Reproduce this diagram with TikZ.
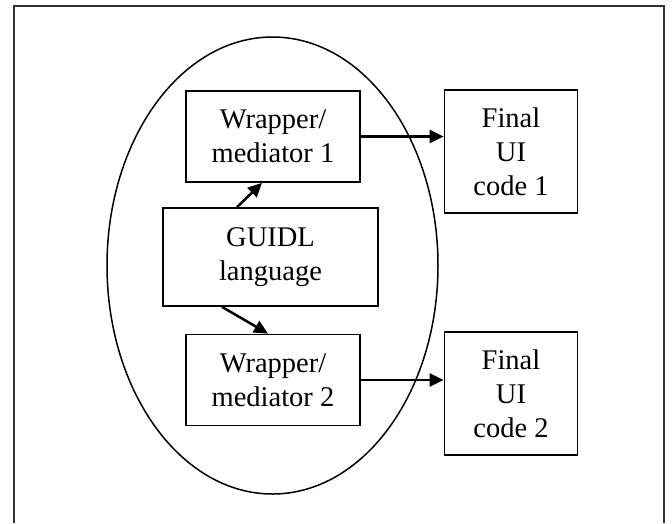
\documentclass[tikz,border=0pt]{standalone}
\usepackage{fontspec}
\setmainfont{Liberation Serif}
\usetikzlibrary{arrows.meta}

\begin{document}
\begin{tikzpicture}[x=1pt, y=-1pt,
    block/.style={draw, line width=1.7pt, align=center, inner sep=0pt, font=\fontsize{28.5}{34}\selectfont},
    wrapbox/.style={block, minimum width=174pt, minimum height=91pt},
    finalbox/.style={block, minimum width=133pt, minimum height=123pt},
    arc/.style={draw, line width=2.5pt, -{Triangle[length=14pt,width=13pt]}},
    frame/.style={draw, line width=2pt, black!80}
    ]
    \useasboundingbox (0,0) rectangle (672,523);

    % Outer frame and the ellipse
    \draw[frame] (14,523) |- (664,5.5) -- (664,523);
    \draw[line width=1.5pt] (272.5,265.5) ellipse [x radius=165.5, y radius=228.5];

    % Define blocks
    \node[block, minimum width=215pt, minimum height=98pt] (guidl) at (270.5,257) {GUIDL\\language};
    \foreach \i/\wy/\fy in {1/136.5/151.5, 2/380/393.5} {
        \node[wrapbox] (w\i) at (273,\wy) {Wrapper/\\mediator \i};
        \node[finalbox] (f\i) at (511,\fy) {Final\\UI\\code \i};
        \draw[arc] (w\i.east) -- (w\i.east -| f\i.west);
    }

    % Define arrows out of the language
    \draw[arc] ([xshift=-33.5pt]guidl.north) -- ([xshift=-11pt]w1.south);
    \draw[arc] ([xshift=-48.5pt]guidl.south) -- ([xshift=-5pt]w2.north);
\end{tikzpicture}
\end{document}
